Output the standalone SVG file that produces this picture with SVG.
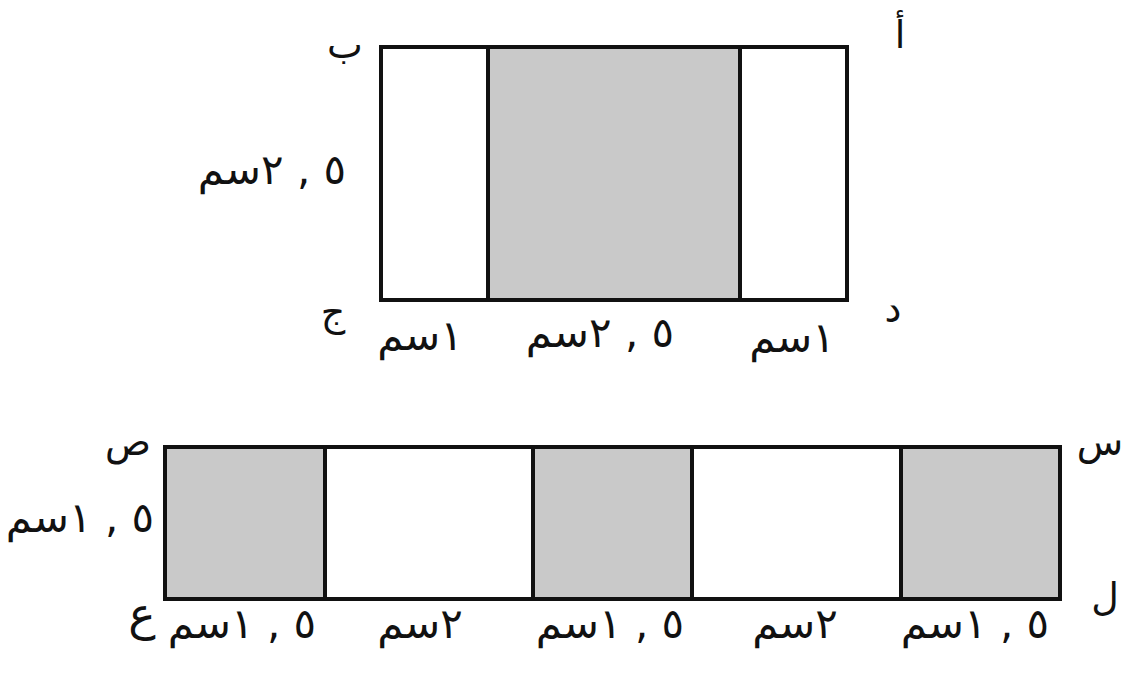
<svg xmlns="http://www.w3.org/2000/svg" width="1133" height="673" viewBox="0 0 1133 673">
<style>
.out{fill:none;stroke:#111;stroke-width:4}
.g{fill:#c9c9c9}
.w{fill:#fff}
.div{stroke:#111;stroke-width:4}
text{font-family:"DejaVu Sans","Noto Sans",sans-serif;font-size:42px;fill:#111;text-anchor:middle;direction:rtl;unicode-bidi:bidi-override}
.l{font-size:38px}
.big{font-size:46px}
</style>
<rect width="1133" height="673" fill="#fff"/>
<g id="top-rect">
<rect class="w" x="381" y="47" width="107" height="253"/>
<rect class="g" x="488" y="47" width="252" height="253"/>
<rect class="w" x="740" y="47" width="107" height="253"/>
<line class="div" x1="488" y1="47" x2="488" y2="300"/>
<line class="div" x1="740" y1="47" x2="740" y2="300"/>
<rect class="out" x="381" y="47" width="466" height="253"/>
</g>
<g id="top-labels">
<text class="l" x="345" y="58">ب</text>
<text class="l" x="900" y="48">أ</text>
<text class="l" x="333" y="325">ج</text>
<text class="l" x="893" y="322">د</text>
<text x="272" y="184">٥ , ٢سم</text>
<text x="420" y="350">١سم</text>
<text x="600" y="347">٥ , ٢سم</text>
<text x="792" y="352">١سم</text>
</g>
<g id="bottom-rect">
<rect class="g" x="165" y="447" width="160" height="152"/>
<rect class="w" x="325" y="447" width="208" height="152"/>
<rect class="g" x="533" y="447" width="159" height="152"/>
<rect class="w" x="692" y="447" width="209" height="152"/>
<rect class="g" x="901" y="447" width="159" height="152"/>
<line class="div" x1="325" y1="447" x2="325" y2="599"/>
<line class="div" x1="533" y1="447" x2="533" y2="599"/>
<line class="div" x1="692" y1="447" x2="692" y2="599"/>
<line class="div" x1="901" y1="447" x2="901" y2="599"/>
<rect class="out" x="165" y="447" width="895" height="152"/>
</g>
<g id="bottom-labels">
<text class="l" x="128" y="455">ص</text>
<text class="l" x="1100" y="455">س</text>
<text class="big" x="142" y="630">ع</text>
<text class="l" x="1105" y="610">ل</text>
<text x="80" y="532">٥ , ١سم</text>
<text x="242" y="638">٥ , ١سم</text>
<text x="420" y="638">٢سم</text>
<text x="610" y="638">٥ , ١سم</text>
<text x="795" y="638">٢سم</text>
<text x="975" y="638">٥ , ١سم</text>
</g>
</svg>
